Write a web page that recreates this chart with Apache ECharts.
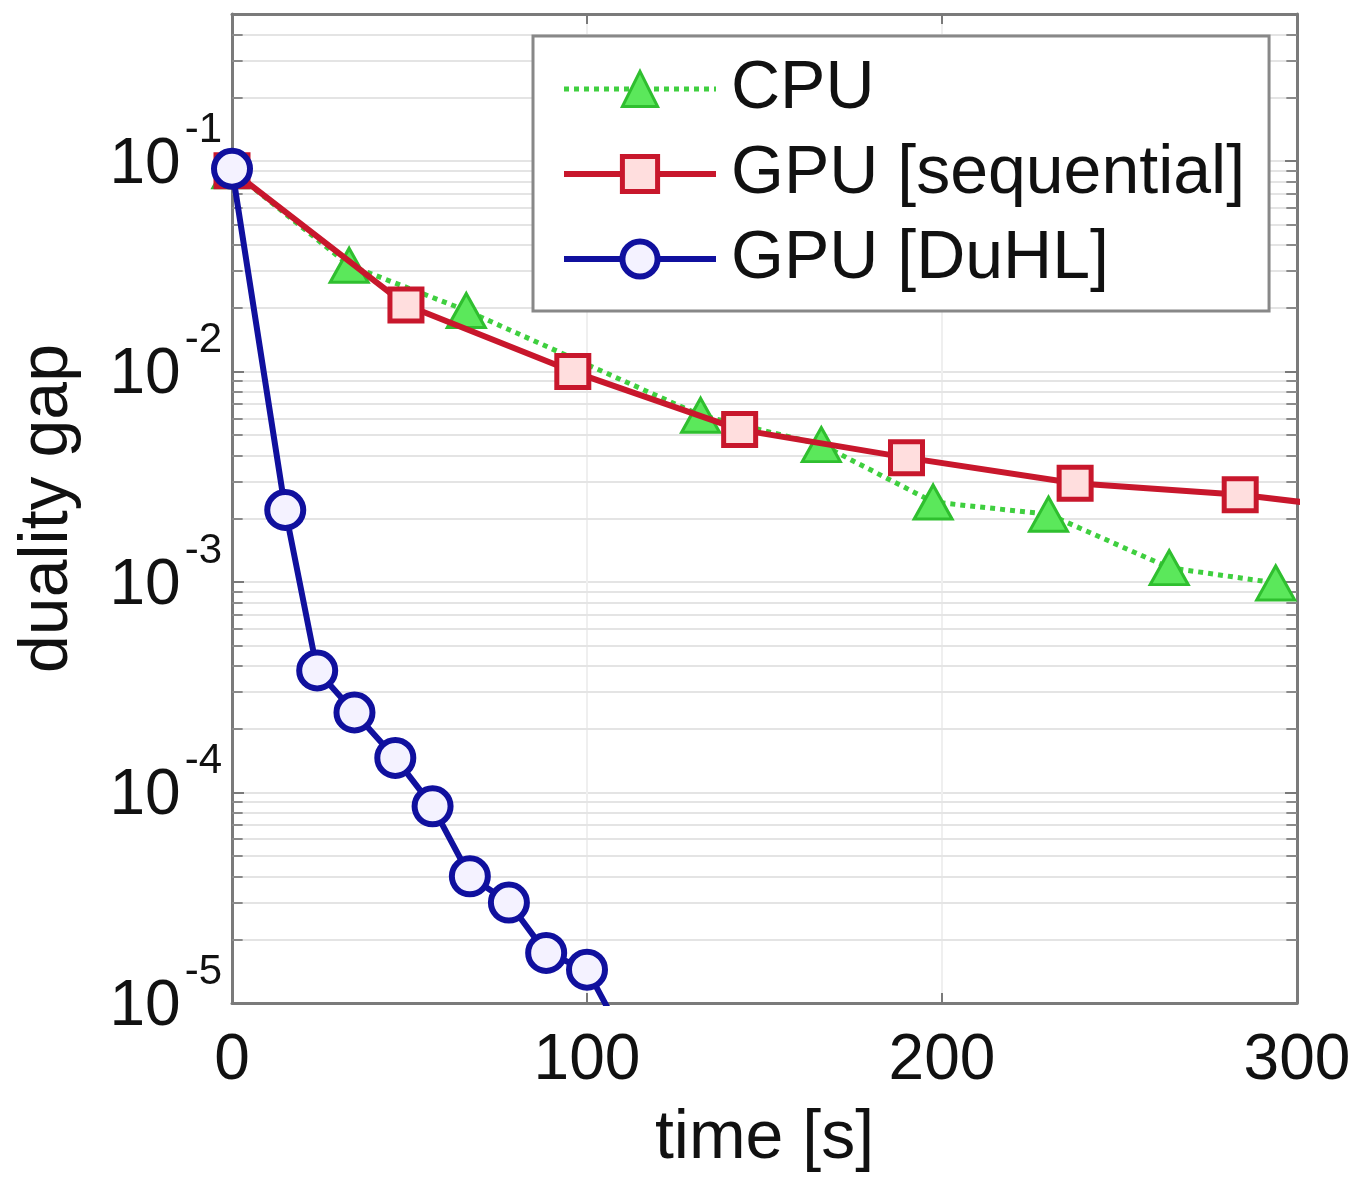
<!DOCTYPE html>
<html>
<head>
<meta charset="utf-8">
<script src="https://cdn.jsdelivr.net/npm/echarts@6/dist/echarts.min.js"></script>
<style>
html,body{margin:0;padding:0;background:#fff;}
#chart{width:1367px;height:1178px;}
</style>
</head>
<body>
<div id="chart"></div>
<script>
// ---- data ----
const seriesNames = ['CPU', 'GPU [sequential]', 'GPU [DuHL]'];
const cpuTime = [0, 33, 66, 132, 166, 197.5, 230, 264, 294];
const cpuGap  = [0.09, 0.032, 0.0195, 0.0062, 0.0045, 0.0024, 0.0021, 0.00117, 0.00099];
const seqTime = [0, 49, 96, 143, 190, 237.5, 284, 330];
const seqGap  = [0.09, 0.0207, 0.0100, 0.0053, 0.0039, 0.00295, 0.0026, 0.0021];
const duhlTime = [0, 15, 24, 34.5, 46, 56.5, 67, 78, 88.5, 100, 110];
const duhlGap  = [0.092, 0.0022, 0.00038, 0.00024, 0.000146, 0.000086, 0.00004, 0.00003, 0.0000173, 0.0000144, 0.000007];
const xTicks = [0, 100, 200, 300];
const minorMantissas = [2, 3, 4, 5, 6, 7, 8, 9];
const decadeExps = [-5, -4, -3, -2, -1];

const minorGrid = [];
decadeExps.forEach(e => minorMantissas.forEach(m => {
  const v = m * Math.pow(10, e);
  if (v < 0.5) minorGrid.push(v);
}));

const zip = (a, b) => a.map((t, i) => [t, b[i]]);
const FONT = '"Liberation Sans", Arial, sans-serif';
const gridCol = '#e4e4e4';
const axisCol = '#7a7a7a';
const X_MIN = 0, X_MAX = 300, TICK_SPAN = 3;

const chart = echarts.init(document.getElementById('chart'), null, {renderer: 'canvas'});

const yLabelFmt = function (v) {
  const e = Math.round(Math.log10(v));
  if (Math.abs(v - Math.pow(10, e)) / v > 1e-6) return '';
  return '{b|10}{s|' + e + '}{h|\u200b}';
};

const minorTickSegs = [];
minorGrid.forEach(v => {
  minorTickSegs.push([{coord: [X_MIN, v]}, {coord: [X_MIN + TICK_SPAN, v]}]);
  minorTickSegs.push([{coord: [X_MAX - TICK_SPAN, v]}, {coord: [X_MAX, v]}]);
});

chart.setOption({
  animation: false,
  backgroundColor: '#fff',
  grid: {left: 232, right: 70, top: 14, bottom: 173, containLabel: false},
  legend: {
    left: 533, top: 36,
    orient: 'vertical',
    backgroundColor: '#fff',
    borderColor: '#888',
    borderWidth: 3,
    borderRadius: 0,
    padding: [19, 24, 18, 28],
    itemWidth: 152,
    itemHeight: 44,
    itemGap: 17,
    lineStyle: {width: 'inherit', type: 'inherit'},
    itemStyle: {borderWidth: 'inherit'},
    textStyle: {fontSize: 68, fontFamily: FONT, color: '#111', padding: [0, 0, 0, 10]},
    data: seriesNames
  },
  xAxis: [{
    type: 'value', min: X_MIN, max: X_MAX, interval: 100,
    name: 'time [s]', nameLocation: 'middle', nameGap: 102,
    nameTextStyle: {fontSize: 68, fontFamily: FONT, color: '#111'},
    axisLine: {show: true, onZero: false, lineStyle: {color: axisCol, width: 3}},
    axisTick: {show: true, inside: true, length: 10, lineStyle: {color: axisCol, width: 2}},
    axisLabel: {fontSize: 64, fontFamily: FONT, color: '#111', margin: 26,
      formatter: v => xTicks.includes(v) ? String(v) : ''},
    splitLine: {show: true, lineStyle: {color: '#efefef', width: 2}}
  }, {
    type: 'value', min: X_MIN, max: X_MAX, interval: 100, position: 'top',
    axisLine: {show: true, onZero: false, lineStyle: {color: axisCol, width: 3}},
    axisTick: {show: true, inside: true, length: 10, lineStyle: {color: axisCol, width: 2}},
    axisLabel: {show: false}, splitLine: {show: false}
  }],
  yAxis: [{
    type: 'log', logBase: 10, min: 1e-5, max: 0.5,
    name: 'duality gap', nameLocation: 'middle', nameGap: 150, nameRotate: 90,
    nameTextStyle: {fontSize: 68, fontFamily: FONT, color: '#111'},
    axisLine: {show: true, onZero: false, lineStyle: {color: axisCol, width: 3}},
    axisTick: {show: true, inside: true, length: 12, lineStyle: {color: axisCol, width: 2}},
    axisLabel: {
      margin: 10, color: '#111', fontFamily: FONT,
      formatter: yLabelFmt,
      padding: [0, 0, 16, 0],
      rich: {
        b: {fontSize: 64, fontFamily: FONT, color: '#111', lineHeight: 64, verticalAlign: 'bottom'},
        s: {fontSize: 42, fontFamily: FONT, color: '#111', lineHeight: 42, verticalAlign: 'top', padding: [0, 0, 0, 4]},
        h: {fontSize: 10, lineHeight: 88, verticalAlign: 'middle'}
      }
    },
    splitLine: {show: true, lineStyle: {color: gridCol, width: 2}}
  }, {
    type: 'log', logBase: 10, min: 1e-5, max: 0.5, position: 'right',
    axisLine: {show: true, onZero: false, lineStyle: {color: axisCol, width: 3}},
    axisTick: {show: true, inside: true, length: 12, lineStyle: {color: axisCol, width: 2}},
    axisLabel: {show: false}, splitLine: {show: false}
  }],
  series: [
    {
      name: seriesNames[0], type: 'line', data: zip(cpuTime, cpuGap), clip: true,
      symbol: 'triangle', symbolSize: [38, 34],
      itemStyle: {color: '#5be85b', borderColor: '#2fbf2f', borderWidth: 3},
      lineStyle: {color: '#3fcf3f', width: 5, type: 'dotted'},
      z: 3,
      markLine: {
        silent: true, symbol: 'none', label: {show: false}, precision: 12,
        lineStyle: {color: gridCol, width: 2, type: 'solid'},
        data: minorGrid.map(v => ({yAxis: v})),
        z: 1
      }
    },
    {
      name: seriesNames[1], type: 'line', data: zip(seqTime, seqGap), clip: true,
      symbol: 'rect', symbolSize: 32,
      itemStyle: {color: '#ffdede', borderColor: '#c8172c', borderWidth: 5},
      lineStyle: {color: '#c8172c', width: 6},
      z: 4,
      markLine: {
        silent: true, symbol: 'none', label: {show: false}, precision: 12,
        lineStyle: {color: '#8a8a8a', width: 2, type: 'solid'},
        data: minorTickSegs,
        z: 1
      }
    },
    {
      name: seriesNames[2], type: 'line', data: zip(duhlTime, duhlGap), clip: true,
      symbol: 'circle', symbolSize: 36,
      itemStyle: {color: '#f4f2ff', borderColor: '#10109e', borderWidth: 6},
      lineStyle: {color: '#10109e', width: 6},
      z: 5
    }
  ]
});
</script>
</body>
</html>
